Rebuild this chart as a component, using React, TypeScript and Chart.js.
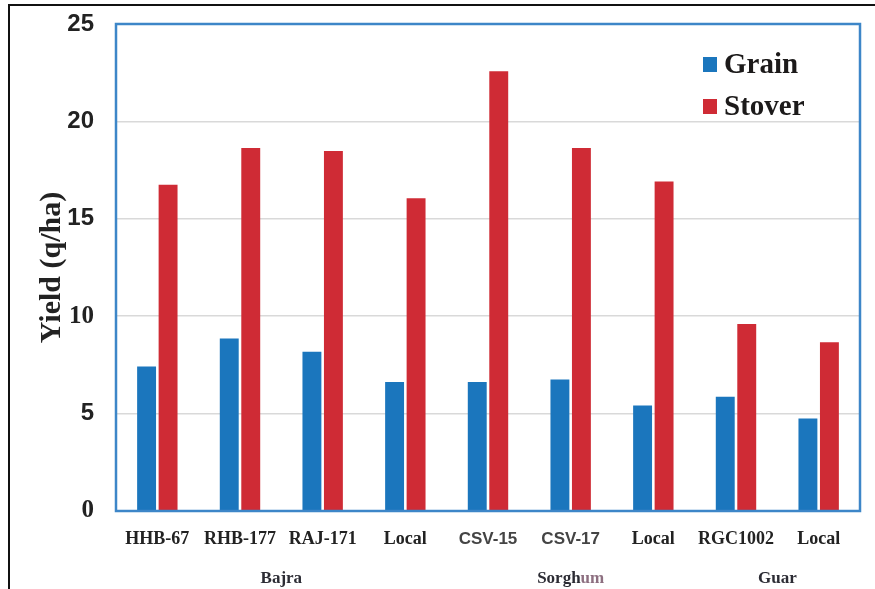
import React, { useEffect, useRef } from "react";
import { Chart, registerables } from "chart.js";

Chart.register(...registerables);

const categories = ["HHB-67", "RHB-177", "RAJ-171", "Local", "CSV-15", "CSV-17", "Local", "RGC1002", "Local"];
const grain = [7.42, 8.85, 8.18, 6.62, 6.62, 6.75, 5.42, 5.86, 4.75];
const stover = [16.75, 18.64, 18.48, 16.06, 22.58, 18.64, 16.92, 9.6, 8.66];
const groups = [
  { name: "Bajra", from: 0, to: 3 },
  { name: "Sorghum", from: 4, to: 6 },
  { name: "Guar", from: 7, to: 8 },
];
const yTicks = [0, 5, 10, 15, 20, 25];

const BLUE = "#1b76bd";
const RED = "#cf2b35";
const FRAME = "#3d86c8";
const SERIF = "'Liberation Serif', 'Times New Roman', serif";
const SANS = "'Liberation Sans', Arial, sans-serif";

const decorPlugin = {
  id: "decor",
  beforeDraw(chart: any) {
    const ctx = chart.ctx;
    ctx.save();
    ctx.fillStyle = "#ffffff";
    ctx.fillRect(0, 0, chart.width, chart.height);
    ctx.restore();
  },
  afterDraw(chart: any) {
    const ctx = chart.ctx;
    const a = chart.chartArea;
    ctx.save();
    // outer black frame (top and left)
    ctx.strokeStyle = "#111";
    ctx.lineWidth = 2;
    ctx.beginPath();
    ctx.moveTo(9, chart.height);
    ctx.lineTo(9, 5);
    ctx.lineTo(chart.width, 5);
    ctx.stroke();
    // plot frame
    ctx.strokeStyle = FRAME;
    ctx.lineWidth = 2.5;
    ctx.strokeRect(a.left, a.top, a.right - a.left, a.bottom - a.top);
    // group labels
    const xs = chart.scales.x;
    ctx.font = `bold 17px ${SERIF}`;
    ctx.textBaseline = "middle";
    groups.forEach((g) => {
      const cx = (xs.getPixelForTick(g.from) + xs.getPixelForTick(g.to)) / 2;
      if (g.name === "Sorghum") {
        const p1 = "Sorgh";
        const p2 = "um";
        const w1 = ctx.measureText(p1).width;
        const w2 = ctx.measureText(p2).width;
        const x0 = cx - (w1 + w2) / 2;
        ctx.textAlign = "left";
        ctx.fillStyle = "#2c2c34";
        ctx.fillText(p1, x0, 579);
        ctx.fillStyle = "#8d6f80";
        ctx.fillText(p2, x0 + w1, 579);
      } else {
        ctx.textAlign = "center";
        ctx.fillStyle = "#2c2c34";
        ctx.fillText(g.name, cx, 579);
      }
    });
    // legend
    const items = [
      { label: chart.data.datasets[0].label, color: BLUE, y: 65 },
      { label: chart.data.datasets[1].label, color: RED, y: 107 },
    ];
    ctx.font = `bold 29px ${SERIF}`;
    ctx.textAlign = "left";
    items.forEach((it) => {
      ctx.fillStyle = it.color;
      ctx.fillRect(a.right - 157, it.y - 8, 14, 15);
      ctx.fillStyle = "#1c1a1a";
      ctx.fillText(it.label, a.right - 136, it.y + 1);
    });
    ctx.restore();
  },
};

export default function App() {
  const ref = useRef<HTMLCanvasElement | null>(null);

  useEffect(() => {
    if (!ref.current) return;
    const chart = new Chart(ref.current, {
      type: "bar",
      data: {
        labels: categories,
        datasets: [
          { label: "Grain", data: grain, backgroundColor: BLUE, categoryPercentage: 0.52, barPercentage: 0.88 },
          { label: "Stover", data: stover, backgroundColor: RED, categoryPercentage: 0.52, barPercentage: 0.88 },
        ],
      },
      options: {
        animation: false,
        responsive: true,
        maintainAspectRatio: false,
        layout: { padding: { left: 0, right: 15, top: 24, bottom: 0 } },
        plugins: {
          legend: { display: false },
          tooltip: { enabled: false },
        },
        scales: {
          x: {
            grid: { display: false, drawTicks: false },
            border: { display: false },
            ticks: {
              padding: 18,
              autoSkip: false,
              maxRotation: 0,
              font: (c: any) =>
                c.index === 4 || c.index === 5
                  ? { family: SANS, size: 17, weight: "bold" }
                  : { family: SERIF, size: 18, weight: "bold" },
              color: (c: any) => (c.index === 4 || c.index === 5 ? "#444444" : "#222222"),
            },
            afterFit: (s: any) => {
              s.height = 78;
              s.paddingLeft = 0;
              s.paddingRight = 0;
            },
          },
          y: {
            min: yTicks[0],
            max: yTicks[yTicks.length - 1],
            afterBuildTicks: (s: any) => {
              s.ticks = yTicks.map((v) => ({ value: v }));
            },
            grid: { color: "#d9d9d9", lineWidth: 1.5, drawTicks: false },
            border: { display: false },
            ticks: {
              padding: 22,
              color: "#222222",
              font: (c: any) =>
                c.tick && (c.tick.value === 10 || c.tick.value === 0)
                  ? { family: SERIF, size: 25, weight: "bold" }
                  : { family: SANS, size: 24, weight: "bold" },
            },
            title: {
              display: true,
              text: "Yield (q/ha)",
              color: "#222222",
              font: { family: SERIF, size: 30, weight: "bold" },
              padding: { top: 34, bottom: 0 },
            },
            afterFit: (s: any) => {
              s.width = 116;
              s.paddingTop = 0;
              s.paddingBottom = 0;
            },
          },
        },
      },
      plugins: [decorPlugin],
    });
    return () => chart.destroy();
  }, []);

  return (
    <div style={{ position: "absolute", left: 0, top: 0, width: 875, height: 589 }}>
      <canvas ref={ref} />
    </div>
  );
}
